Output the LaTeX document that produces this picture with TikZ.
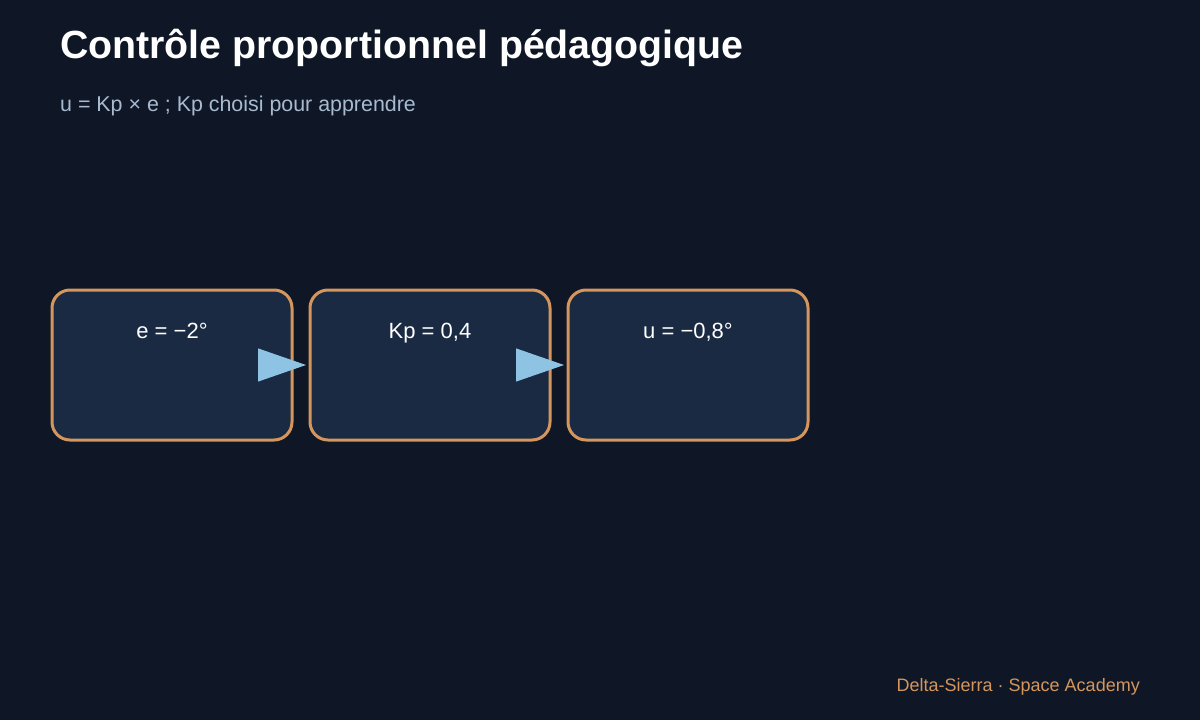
\documentclass[tikz,border=0pt]{standalone}
\usepackage{fontspec}
\setmainfont{Liberation Sans}
\usetikzlibrary{positioning,arrows.meta}

\definecolor{bgcol}{HTML}{0F1727}
\definecolor{boxfill}{HTML}{1A2A43}
\definecolor{boxline}{HTML}{D4965C}
\definecolor{arrowcol}{HTML}{8EC3E4}
\definecolor{subcol}{HTML}{A8BAD0}

\begin{document}
\begin{tikzpicture}[x=1pt,y=-1pt,node distance=258pt,
		box node/.style={rectangle,rounded corners=18pt,draw=boxline,line width=3pt,fill=boxfill,
			minimum width=240pt,minimum height=150pt},
		box text/.style={anchor=base,inner sep=0pt,yshift=-49.5pt,text=white,font=\fontsize{22}{26}\selectfont},
		link/.style={draw=arrowcol,line width=1pt,shorten >=2.5pt,-{Triangle[length=48pt,width=33pt,fill=arrowcol]}}]
		
		\fill[bgcol] (0,0) rectangle (1200,720);
		
		\node[anchor=base west,inner sep=0pt,text=white,font=\bfseries\fontsize{39.3}{45}\selectfont] (title) at (60,58) {Contrôle proportionnel pédagogique};
		\node[anchor=base west,inner sep=0pt,text=subcol,font=\fontsize{21.4}{25}\selectfont] (subtitle) at (60,111) {u = Kp × e ; Kp choisi pour apprendre};
		
		\node[box node,label={[box text]north:e = −2°}] (err) at (172,365) {};
		\node[box node,label={[box text]north:Kp = 0,4}] (gain) [right of=err] {};
		\node[box node,label={[box text]north:u = −0,8°}] (cmd) [right of=gain] {};
		
		\path[link]
		(err) edge (gain)
		(gain) edge (cmd);
		
		\node[anchor=base east,inner sep=0pt,text=boxline,font=\fontsize{18}{22}\selectfont] (footer) at (1140,691) {Delta-Sierra · Space Academy};
		\end{tikzpicture}
\end{document}
